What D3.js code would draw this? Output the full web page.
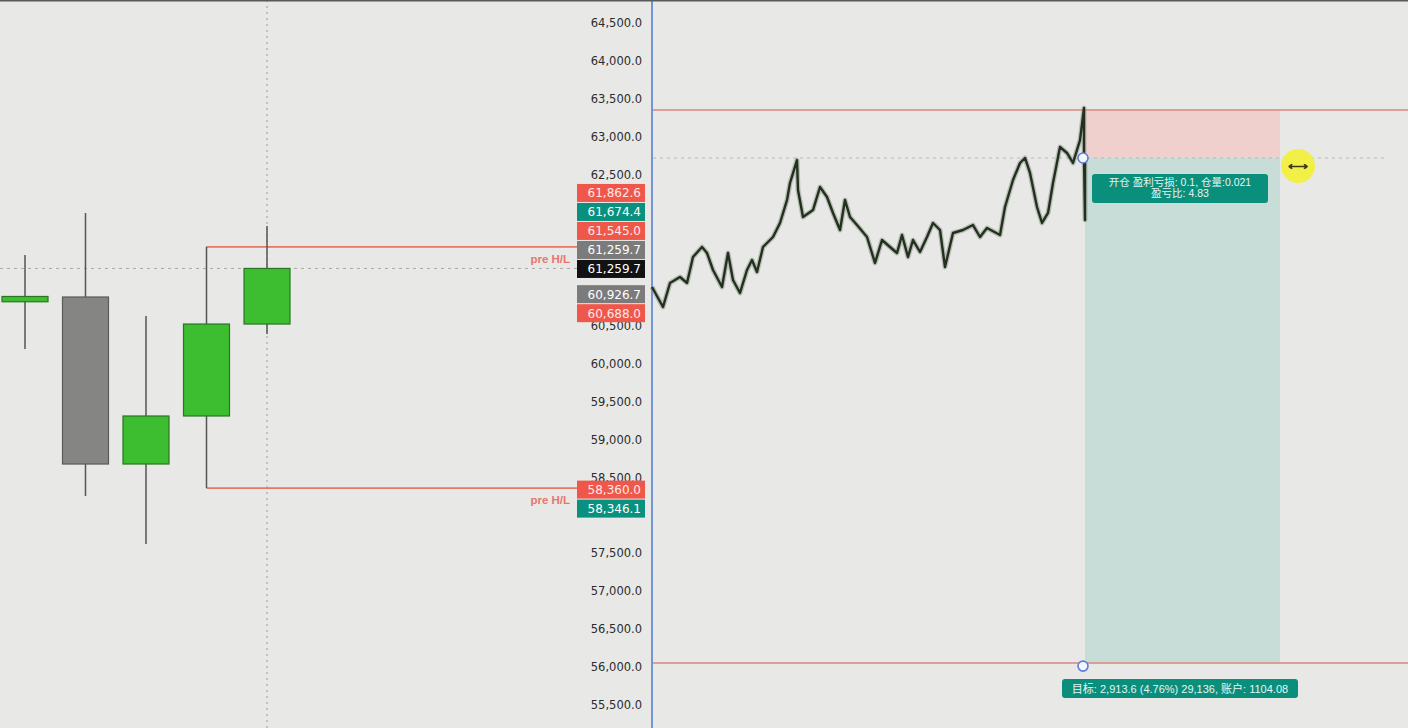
<!DOCTYPE html>
<html lang="zh">
<head>
  <meta charset="utf-8">
  <title>BTC 图表</title>
  <script src="https://d3js.org/d3.v7.min.js"></script>
  <style>
    html, body { margin: 0; padding: 0; background: #e8e8e6; }
    #chart text { font-family: "Liberation Sans", "Noto Sans CJK SC", sans-serif; }
  </style>
</head>
<body>
<div id="chart"></div>
<script>
"use strict"

// 左侧日线 K 线
const candleOpen  = [60820, 60883, 58678, 59312, 60526];
const candleHigh  = [61437, 61992, 60632, 61545, 61820];
const candleLow   = [60196, 58256, 57622, 58360, 60394];
const candleClose = [60890, 58678, 59312, 60526, 61259.7];

// 价格刻度
const tickValues = d3.range(55500, 64501, 500);

// 价格标签 (两组)
const tagValuesUpper = [61862.6, 61674.4, 61545.0, 61259.7, 61259.7, 60926.7, 60688.0];
const tagKindsUpper  = ["red", "teal", "red", "grey", "last", "grey", "red"];
const tagValuesLower = [58360.0, 58346.1];
const tagKindsLower  = ["red", "teal"];

// 前高低
const preHigh = 61545.0, preLow = 58360.0;

// 右侧分时走势 (bar 序号, 价格)
const barPos = [0, 11, 18, 28, 35, 41, 50, 55, 61, 70, 76, 81, 88, 95, 100, 105, 111, 121, 128,
  135, 138, 145, 146, 151, 161, 168, 175, 181, 188, 193, 198, 205, 215, 223, 230, 238, 245, 250,
  256, 261, 268, 275, 281, 288, 293, 301, 311, 321, 328, 335, 348, 353, 361, 368, 373, 378, 385,
  390, 396, 401, 408, 415, 421, 428, 432, 432, 433, 433];
const barPrice = [61015, 60751, 61068, 61147, 61068, 61411, 61543, 61464, 61239, 61015, 61464,
  61107, 60936, 61239, 61371, 61213, 61543, 61675, 61860, 62163, 62388, 62691, 62295, 61939,
  62031, 62335, 62203, 61992, 61767, 62163, 61939, 61833, 61675, 61332, 61635, 61543, 61464,
  61701, 61411, 61635, 61477, 61675, 61860, 61767, 61279, 61728, 61767, 61833, 61675, 61794,
  61701, 62071, 62427, 62652, 62718, 62520, 62071, 61860, 61992, 62388, 62863, 62784, 62652,
  62955, 63378, 62718, 61900, 62700];

// 空单仓位
const entryPrice = 62718, stopPrice = 63352, targetPrice = 56050;
const posStart = 433, posEnd = 628;
const posInfo = ["开仓 盈利亏损: 0.1, 仓量:0.021", "盈亏比: 4.83"];
const targetInfo = "目标: 2,913.6 (4.76%) 29,136, 账户: 1104.08";

const W = 1408, H = 728;
const svg = d3.select("#chart").append("svg").attr("width", W).attr("height", H);

const y = d3.scaleLinear().domain([55500, 64500]).range([704.75, 23]);
const xc = d3.scaleLinear().domain([0, 4]).range([25, 267]);   // 左侧 K 线中心
const xr = d3.scaleLinear().domain([0, 756]).range([652, 1408]); // 右侧分时
const bodyW = 46;
const fmt = d3.format(",.1f");

svg.append("rect").attr("width", W).attr("height", H).attr("fill", "#e8e8e6");

// 十字光标虚线
svg.append("line").attr("x1", xc(4)).attr("x2", xc(4)).attr("y1", 0).attr("y2", H)
  .attr("stroke", "#9a9a9a").attr("stroke-dasharray", "2,4");
svg.append("line").attr("x1", 0).attr("x2", 577).attr("y1", y(candleClose[4])).attr("y2", y(candleClose[4]))
  .attr("stroke", "#a8a8a8").attr("stroke-dasharray", "3,4");

// 前高低线
[preHigh, preLow].forEach(v => {
  svg.append("line").attr("x1", xc(3)).attr("x2", 577).attr("y1", y(v)).attr("y2", y(v))
    .attr("stroke", "#e2776c").attr("stroke-width", 1.6);
  svg.append("text").attr("x", 570).attr("y", y(v) + 16).attr("text-anchor", "end")
    .attr("fill", "#e8766b").attr("font-size", 11.5).attr("font-weight", "bold").text("pre H/L");
});

// K 线
const candles = svg.append("g").selectAll("g").data(candleOpen.map((o, i) => i)).enter().append("g");
candles.append("line")
  .attr("x1", i => xc(i)).attr("x2", i => xc(i))
  .attr("y1", i => y(candleHigh[i])).attr("y2", i => y(candleLow[i]))
  .attr("stroke", "#555").attr("stroke-width", 1.5);
candles.append("rect")
  .attr("x", i => xc(i) - bodyW / 2).attr("width", bodyW)
  .attr("y", i => y(Math.max(candleOpen[i], candleClose[i])))
  .attr("height", i => Math.max(4, Math.abs(y(candleOpen[i]) - y(candleClose[i]))))
  .attr("fill", i => candleClose[i] >= candleOpen[i] ? "#3cbe30" : "#858583")
  .attr("stroke", i => candleClose[i] >= candleOpen[i] ? "#2b7424" : "#5a5a58")
  .attr("stroke-width", 1.2);

// 价格标签堆叠位置
const tagColor = { red: "#f0574b", teal: "#0a907e", grey: "#7b7b7b", last: "#121212" };
const tagH = 19;
function layoutTags(vals, anchor, shift) {
  const pos = vals.map(v => y(v) + shift);
  for (let i = anchor - 1; i >= 0; i--) pos[i] = Math.min(pos[i], pos[i + 1] - tagH);
  for (let i = anchor + 1; i < vals.length; i++) pos[i] = Math.max(pos[i], pos[i - 1] + tagH);
  return pos;
}
const posUpper = layoutTags(tagValuesUpper, 4, 1);
const posLower = layoutTags(tagValuesLower, 0, 2);
const allTagPos = posUpper.concat(posLower);

// 价格轴 (被标签遮住的刻度不画)
const shownTicks = tickValues.filter(v => allTagPos.every(p => Math.abs(p - y(v)) > 10));
const axis = svg.append("g").attr("transform", "translate(642,0)")
  .call(d3.axisLeft(y).tickValues(shownTicks).tickSize(0).tickPadding(0).tickFormat(fmt));
axis.select(".domain").remove();
axis.selectAll("text").attr("fill", "#2c2c2c")
  .style("font-family", "'DejaVu Sans', sans-serif").attr("font-size", 11.5);

function drawTags(vals, kinds, pos) {
  const g = svg.append("g");
  vals.forEach((v, i) => {
    g.append("rect").attr("x", 577).attr("y", pos[i] - tagH / 2).attr("width", 68).attr("height", tagH - 1)
      .attr("fill", tagColor[kinds[i]]);
    g.append("text").attr("x", 641).attr("y", pos[i] + 4).attr("text-anchor", "end")
      .attr("fill", kinds[i] === "red" ? "#ffe9e6" : "#ffffff").attr("font-size", 12)
      .style("font-family", "'DejaVu Sans', sans-serif").text(fmt(v));
  });
}
drawTags(tagValuesUpper, tagKindsUpper, posUpper);
drawTags(tagValuesLower, tagKindsLower, posLower);

// 右侧面板
svg.append("line").attr("x1", 652).attr("x2", 652).attr("y1", 0).attr("y2", H)
  .attr("stroke", "#7295d8").attr("stroke-width", 2);

// 止损/目标区域
svg.append("rect").attr("x", xr(posStart)).attr("width", xr(posEnd) - xr(posStart))
  .attr("y", y(stopPrice)).attr("height", y(entryPrice) - y(stopPrice)).attr("fill", "#efd0cd");
svg.append("rect").attr("x", xr(posStart)).attr("width", xr(posEnd) - xr(posStart))
  .attr("y", y(entryPrice)).attr("height", y(targetPrice) - y(entryPrice)).attr("fill", "#c8dcd8");

[stopPrice, targetPrice].forEach(v => {
  svg.append("line").attr("x1", 653).attr("x2", W).attr("y1", y(v)).attr("y2", y(v))
    .attr("stroke", "#d9897f").attr("stroke-width", 1.5);
});
svg.append("line").attr("x1", 653).attr("x2", xr(733)).attr("y1", y(entryPrice)).attr("y2", y(entryPrice))
  .attr("stroke", "#b9b9b4").attr("stroke-dasharray", "3,4");

// 分时走势
const idx = barPos.map((d, i) => i);
const line = d3.line().x(i => xr(barPos[i])).y(i => y(barPrice[i]));
svg.append("path").datum(idx).attr("d", line)
  .attr("fill", "none").attr("stroke", "#7f8a7c").attr("stroke-width", 5).attr("opacity", 0.45)
  .attr("stroke-linejoin", "round");
svg.append("path").datum(idx).attr("d", line)
  .attr("fill", "none").attr("stroke", "#22301d").attr("stroke-width", 2.4).attr("stroke-linejoin", "round");

// 信息框
const infoX = (xr(posStart) + xr(posEnd)) / 2;
svg.append("rect").attr("x", 1092).attr("y", 174).attr("width", 176).attr("height", 29).attr("rx", 3)
  .attr("fill", "#0b8f7d");
posInfo.forEach((t, i) => {
  svg.append("text").attr("x", 1180).attr("y", 186 + i * 11).attr("text-anchor", "middle")
    .attr("fill", "#e6f5f1").attr("font-size", 10.5).text(t);
});
svg.append("rect").attr("x", 1062).attr("y", 679).attr("width", 236).attr("height", 19).attr("rx", 3)
  .attr("fill", "#0b8f7d");
svg.append("text").attr("x", 1180).attr("y", 692.5).attr("text-anchor", "middle")
  .attr("fill", "#e6f5f1").attr("font-size", 11).text(targetInfo);

// 拖动手柄
[entryPrice, targetPrice].forEach(v => {
  svg.append("circle").attr("cx", xr(431)).attr("cy", y(v) + (v === targetPrice ? 3 : 0)).attr("r", 5)
    .attr("fill", "#f4f6ff").attr("stroke", "#5b7ddb").attr("stroke-width", 1.6);
});

// 黄色光标
svg.append("circle").attr("cx", xr(646)).attr("cy", 166).attr("r", 17).attr("fill", "#f2f03a").attr("opacity", 0.92);
svg.append("text").attr("x", xr(646)).attr("y", 171).attr("text-anchor", "middle")
  .attr("fill", "#3a3a1a").attr("font-size", 14).attr("font-weight", "bold").text("⟷");

// 顶部边框
svg.append("rect").attr("x", 0).attr("y", 0).attr("width", W).attr("height", 1.5).attr("fill", "#5a5a5a");
</script>
</body>
</html>
